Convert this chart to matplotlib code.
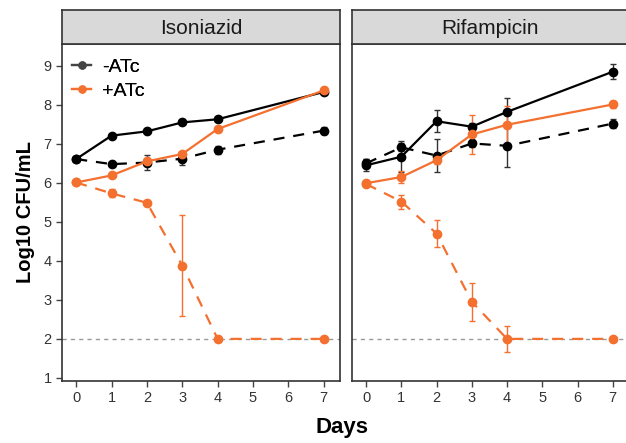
import numpy as np
import matplotlib.pyplot as plt

plt.rcParams['font.family'] = ['Liberation Sans', 'DejaVu Sans']

days = [0, 1, 2, 3, 4, 7]
panels = ['Isoniazid', 'Rifampicin']

# Isoniazid
inh_minus_solid = [6.61, 7.21, 7.32, 7.55, 7.63, 8.33]
inh_minus_solid_err = [0.05, 0.05, 0.05, 0.05, 0.05, 0.06]
inh_minus_dash = [6.61, 6.48, 6.52, 6.62, 6.85, 7.34]
inh_minus_dash_err = [0.05, 0.05, 0.2, 0.15, 0.1, 0.1]
inh_plus_solid = [6.01, 6.19, 6.55, 6.74, 7.38, 8.37]
inh_plus_solid_err = [0.05, 0.05, 0.05, 0.05, 0.08, 0.05]
inh_plus_dash = [6.01, 5.73, 5.49, 3.88, 2.0, 2.0]
inh_plus_dash_err = [0.05, 0.1, 0.05, 1.29, 0.0, 0.0]

# Rifampicin
rif_minus_solid = [6.45, 6.67, 7.58, 7.44, 7.82, 8.85]
rif_minus_solid_err = [0.15, 0.4, 0.28, 0.1, 0.35, 0.19]
rif_minus_dash = [6.50, 6.91, 6.70, 7.01, 6.95, 7.52]
rif_minus_dash_err = [0.1, 0.1, 0.43, 0.08, 0.55, 0.12]
rif_plus_solid = [5.99, 6.15, 6.58, 7.24, 7.49, 8.01]
rif_plus_solid_err = [0.05, 0.15, 0.1, 0.5, 0.49, 0.08]
rif_plus_dash = [5.97, 5.52, 4.70, 2.95, 2.0, 2.0]
rif_plus_dash_err = [0.05, 0.18, 0.34, 0.48, 0.34, 0.0]

orange = '#F4702F'
data = {
    'Isoniazid': [(inh_minus_solid, inh_minus_solid_err, 'k', '-'),
                  (inh_minus_dash, inh_minus_dash_err, 'k', '--'),
                  (inh_plus_solid, inh_plus_solid_err, orange, '-'),
                  (inh_plus_dash, inh_plus_dash_err, orange, '--')],
    'Rifampicin': [(rif_minus_solid, rif_minus_solid_err, 'k', '-'),
                   (rif_minus_dash, rif_minus_dash_err, 'k', '--'),
                   (rif_plus_solid, rif_plus_solid_err, orange, '-'),
                   (rif_plus_dash, rif_plus_dash_err, orange, '--')],
}

W, H = 626, 443
fig = plt.figure(figsize=(W / 100, H / 100), dpi=100)

boxes = [(62, 340), (352, 629)]
top, bottom = 44, 381
strip_top = 10

for name, (x0, x1) in zip(panels, boxes):
    ax = fig.add_axes([x0 / W, (H - bottom) / H, (x1 - x0) / W, (bottom - top) / H])
    ax.axhline(2, color='#999999', ls=(0, (3, 3)), lw=1, zorder=1)
    for vals, err, col, ls in data[name]:
        ecol = '#333333' if col == 'k' else col
        ax.errorbar(days, vals, yerr=err, color=col, ls=ls, lw=1.6, marker='o', ms=6,
                    ecolor=ecol, elinewidth=1, capsize=2.5, capthick=1, zorder=3,
                    dashes=(5, 4) if ls == '--' else (None, None))
    ax.set_xlim(-0.4, 7.46)
    ax.set_ylim(0.92, 9.56)
    ax.set_xticks(range(8))
    ax.set_yticks(range(1, 10))
    ax.tick_params(labelsize=10.5, colors='#444444', length=4, width=1)
    ax.tick_params(labelcolor='#333333')
    for s in ax.spines.values():
        s.set_color('#333333')
        s.set_linewidth(1.2)
    if name == 'Rifampicin':
        ax.tick_params(axis='y', left=False, labelleft=False)
    else:
        ax.set_ylabel('Log10 CFU/mL', fontsize=14.5, fontweight='bold', labelpad=6)
    h1, = ax.plot([], [], color='#444444', marker='o', ms=5, lw=1.6)
    h2, = ax.plot([], [], color=orange, marker='o', ms=5, lw=1.6)
    ax.legend([h1, h2], ['-ATc', '+ATc'], loc='upper left', frameon=False, fontsize=14,
              handlelength=1.0, handletextpad=0.55, borderaxespad=0, borderpad=0,
              labelspacing=0.3, bbox_to_anchor=((72 - x0) / (x1 - x0), 0.957))
    # strip
    sax = fig.add_axes([x0 / W, (H - top) / H, (x1 - x0) / W, (top - strip_top) / H])
    sax.set_xticks([])
    sax.set_yticks([])
    sax.set_facecolor('#D9D9D9')
    for s in sax.spines.values():
        s.set_color('#333333')
        s.set_linewidth(1.2)
    sax.text(0.5, 0.45, name, ha='center', va='center', fontsize=15, color='#1a1a1a',
             transform=sax.transAxes)

fig.text(342 / W, (H - 428) / H, 'Days', ha='center', va='center', fontsize=16,
         fontweight='bold')

fig.savefig('out.png', dpi=100)
